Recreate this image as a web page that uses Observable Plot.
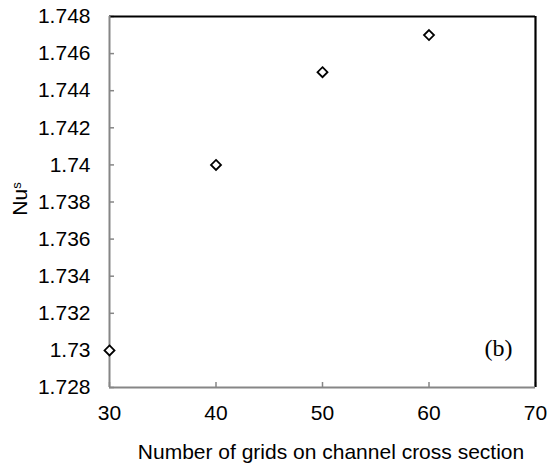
<!DOCTYPE html>
<html>
<head>
<meta charset="utf-8">
<script src="https://cdn.jsdelivr.net/npm/d3@7"></script>
<script src="https://cdn.jsdelivr.net/npm/@observablehq/plot@0.6"></script>
<style>
  html, body { margin: 0; padding: 0; background: white; }
  #chart { width: 558px; height: 465px; }
</style>
</head>
<body>
<div id="chart"></div>
<script>
const grids = [30, 40, 50, 60];
const nuValues = [1.730, 1.740, 1.745, 1.747];
const xTicks = [30, 40, 50, 60, 70];
const yTicks = [1.728, 1.730, 1.732, 1.734, 1.736, 1.738, 1.740, 1.742, 1.744, 1.746, 1.748];
const xTitle = "Number of grids on channel cross section";
const yTitleMain = "Nu";
const yTitleSub = "s";
const panelLabel = "(b)";

const points = grids.map((g, i) => ({x: g, y: nuValues[i]}));
const xDomain = [xTicks[0], xTicks[xTicks.length - 1]];
const yDomain = [yTicks[0], yTicks[yTicks.length - 1]];
const gray = "#868686";

const chart = Plot.plot({
  width: 558,
  height: 465,
  marginLeft: 109,
  marginRight: 23,
  marginTop: 16,
  marginBottom: 78,
  x: {domain: xDomain},
  y: {domain: yDomain},
  style: {fontFamily: "'Liberation Sans', Arial, sans-serif", fontSize: "21px", background: "white", color: "black", overflow: "visible"},
  marks: [
    Plot.axisY(yTicks, {anchor: "left", tickSize: 5, dx: 5, stroke: gray, strokeWidth: 1.5, tickFormat: () => "", label: null}),
    Plot.axisY(yTicks, {anchor: "left", tickSize: 0, tickPadding: 19, tickFormat: d => String(+d.toFixed(3)), fill: "black", fontSize: 21, label: null}),
    Plot.axisX(xTicks, {anchor: "bottom", tickSize: 5, dy: -5, stroke: gray, strokeWidth: 1.5, tickFormat: () => "", label: null}),
    Plot.axisX(xTicks, {anchor: "bottom", tickSize: 0, tickPadding: 18, fill: "black", fontSize: 21, label: null}),
    Plot.ruleY([yDomain[1]], {stroke: "black", strokeWidth: 2.2}),
    Plot.ruleX([xDomain[1]], {stroke: "black", strokeWidth: 2.2}),
    Plot.ruleX([xDomain[0]], {stroke: gray, strokeWidth: 2}),
    Plot.ruleY([yDomain[0]], {stroke: gray, strokeWidth: 2}),
    Plot.dot(points, {x: "x", y: "y", symbol: "diamond2", r: 4.5, stroke: "black", strokeWidth: 1.8, fill: "white"}),
    Plot.text([panelLabel], {frameAnchor: "bottom-right", textAnchor: "end", lineAnchor: "middle", dx: -23, dy: -39, fontFamily: "'Liberation Serif', 'Times New Roman', serif", fontSize: 24, fill: "black"})
  ]
});

document.getElementById("chart").appendChild(chart);

const svg = d3.select(chart);
svg.append("text")
  .attr("x", 331)
  .attr("y", 459)
  .attr("text-anchor", "middle")
  .attr("font-family", "'Liberation Sans', Arial, sans-serif")
  .attr("font-size", 21)
  .attr("fill", "black")
  .text(xTitle);

const yt = svg.append("text")
  .attr("transform", "translate(27,199) rotate(-90)")
  .attr("text-anchor", "middle")
  .attr("font-family", "'Liberation Sans', Arial, sans-serif")
  .attr("font-size", 21)
  .attr("fill", "black");
yt.append("tspan").text(yTitleMain);
yt.append("tspan").attr("font-size", 13).attr("dy", -6).text(yTitleSub);
</script>
</body>
</html>
